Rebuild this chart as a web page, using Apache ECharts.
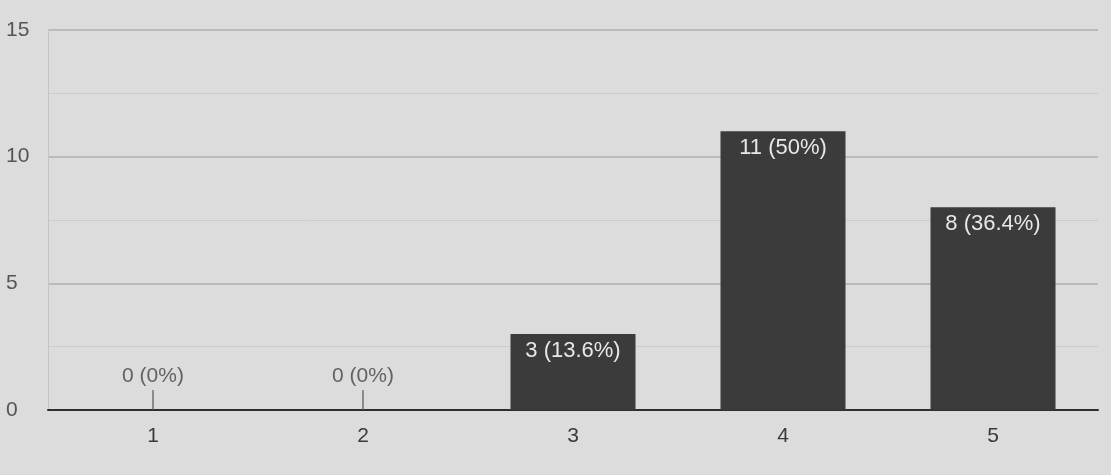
<!DOCTYPE html>
<html><head><meta charset="utf-8">
<script src="https://cdn.jsdelivr.net/npm/echarts@6/dist/echarts.min.js"></script>
<style>html,body{margin:0;padding:0;background:#dcdcdc;}#c{width:1111px;height:475px;}</style>
</head><body><div id="c"></div>
<script>
var categories = ['1', '2', '3', '4', '5'];
var counts = [0, 0, 3, 11, 8];
var percents = ['0%', '0%', '13.6%', '50%', '36.4%'];
var yTicks = [0, 5, 10, 15];

var FONT = '"Liberation Sans", Arial, sans-serif';
var barData = counts.map(function (v, i) {
  return { value: v, label: { show: v > 0 } };
});
var zeroData = [];
counts.forEach(function (v, i) { if (v === 0) zeroData.push([categories[i], 0, i]); });

var chart = echarts.init(document.getElementById('c'));
chart.setOption({
  backgroundColor: '#dcdcdc',
  animation: false,
  grid: { left: 48, right: 13, top: 30, bottom: 65 },
  xAxis: {
    type: 'category', data: categories,
    axisLine: { lineStyle: { color: '#2e2e2e', width: 2 } },
    axisTick: { show: false },
    axisLabel: { color: '#3a3a3a', fontSize: 21, margin: 16, fontFamily: FONT }
  },
  yAxis: {
    type: 'value', min: 0, max: 15, interval: 5,
    axisLine: { show: true, lineStyle: { color: '#c4c4c4' } },
    axisLabel: { color: '#555', fontSize: 21, margin: 42, fontFamily: FONT, align: 'left',
      formatter: function (v) { return yTicks.indexOf(v) >= 0 ? String(v) : ''; } },
    splitLine: { lineStyle: { color: '#b0b0b0', width: 1.5 } },
    minorTick: { show: false, splitNumber: 2 },
    minorSplitLine: { show: true, lineStyle: { color: '#cbcbcb', width: 1 } }
  },
  series: [
    {
      type: 'bar', data: barData, barWidth: 125,
      itemStyle: { color: '#3b3b3b' },
      label: {
        show: true, position: 'insideTop', distance: 6, color: '#e8e8e8', fontSize: 22, fontFamily: FONT,
        formatter: function (p) { return counts[p.dataIndex] + ' (' + percents[p.dataIndex] + ')'; }
      }
    },
    {
      type: 'scatter', data: zeroData, symbol: 'rect', symbolSize: [1.5, 20], symbolOffset: [0, -10],
      itemStyle: { color: '#555' },
      label: {
        show: true, position: 'top', distance: 3, color: '#444', fontSize: 21, fontFamily: FONT,
        formatter: function (p) { var i = p.value[2]; return counts[i] + ' (' + percents[i] + ')'; }
      }
    }
  ]
});
</script>
</body></html>
